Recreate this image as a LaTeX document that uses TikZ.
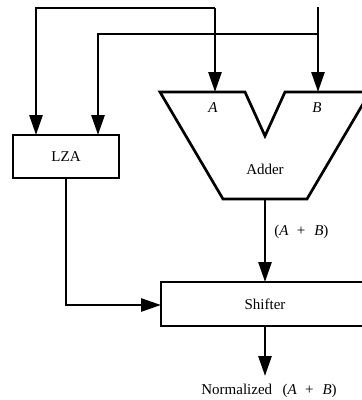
\documentclass[tikz,border=0pt]{standalone}
\usepackage{fontspec}
\setmainfont{Liberation Serif}
\usetikzlibrary{arrows.meta}
\begin{document}
\begin{tikzpicture}[x=1pt,y=-1pt,line width=2.7pt,
  arr/.style={-{Triangle[length=20pt,width=13pt]}},
  blk/.style={draw,rectangle,inner sep=0pt,font=\fontsize{15}{17}\selectfont},
  lbl/.style={inner sep=0pt,font=\fontsize{15}{17}\selectfont}]
\useasboundingbox (0,0) rectangle (362,400);
\clip (0,0) rectangle (362,400);
% Adder
\draw (160,92) -- (245,92) -- (265,136) -- (285,92) -- (370,92) -- (307,199) -- (223,199) -- cycle;
\coordinate (ain) at (215,92);
\coordinate (bin) at (318,92);
\coordinate (aout) at (265,199);
\coordinate (atop) at (215,8);
\coordinate (btop) at (318,7);
\coordinate (bsplit) at (318,34);
\coordinate (c1) at (36,8);
\coordinate (c2) at (98,34);
\node[lbl] (alab) at (213,108) {\textit{A}};
\node[lbl] (blab) at (317,108) {\textit{B}};
\node[lbl] (adder) at (265,169) {Adder};
% LZA
\node[blk,minimum width=106pt,minimum height=43pt] (lza) at (66,156.5) {LZA};
% Shifter
\node[blk,minimum width=208pt,minimum height=44pt] (sh) at (265,304) {Shifter};
\coordinate (lzain1) at (36,135);
\coordinate (lzain2) at (98,135);
\coordinate (lzaout) at (66,178);
\coordinate (bend) at (66,305);
\coordinate (shin) at (161,305);
\coordinate (shtop) at (265,282);
\coordinate (shbot) at (265,326);
\coordinate (out) at (265,376);
% connectors
\draw[arr] (btop) -- (bin);
\draw[arr] (atop) -- (ain);
\draw[arr] (atop) -- (c1) -- (lzain1);
\draw[arr] (bsplit) -- (c2) -- (lzain2);
\draw[arr] (lzaout) -- (bend) -- (shin);
\draw[arr] (aout) -- (shtop);
\draw[arr] (shbot) -- (out);
\node[lbl,anchor=west] (sum) at (273,232) {(\textit{A}\hspace{0.55em}+\hspace{0.6em}\textit{B})};
\node[lbl,anchor=west] (norm) at (200,391) {Normalized\hspace{0.7em}(\textit{A}\hspace{0.55em}+\hspace{0.6em}\textit{B})};
\end{tikzpicture}
\end{document}
